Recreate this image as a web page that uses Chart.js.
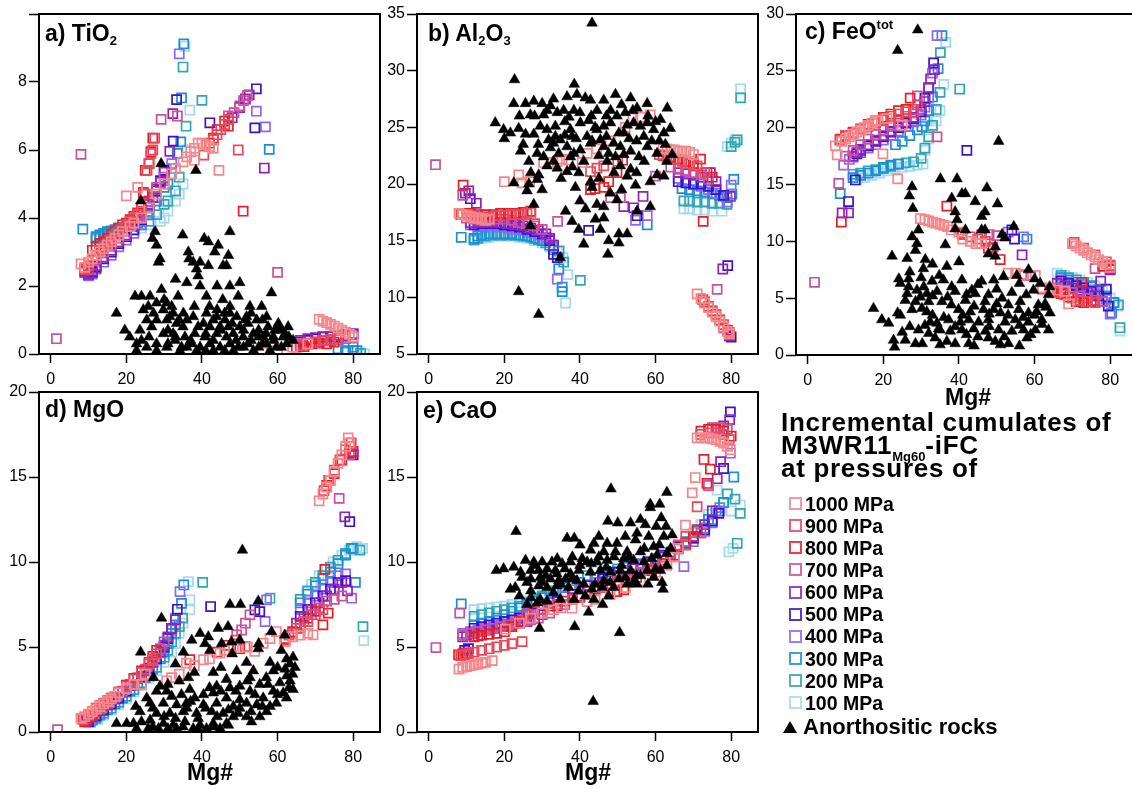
<!DOCTYPE html>
<html><head><meta charset="utf-8">
<script src="https://cdn.jsdelivr.net/npm/chart.js@4.4.1/dist/chart.umd.min.js"></script>
<style>
html,body{margin:0;padding:0;background:#fff;overflow:hidden;width:1132px;height:789px;position:relative}
canvas{position:absolute;left:0;top:0}
.pl{position:absolute;font:bold 23px 'Liberation Sans',Arial,sans-serif;line-height:23px;white-space:nowrap;color:#000}
.pl sub{font-size:13px;vertical-align:-4px;line-height:0}
.pl sup{font-size:13px;vertical-align:10px;line-height:0}
.mg{position:absolute;font:bold 23px 'Liberation Sans',Arial,sans-serif;line-height:23px;white-space:nowrap;transform:translateX(-50%)}
.lt{position:absolute;left:781px;font:bold 26px 'Liberation Sans',Arial,sans-serif;letter-spacing:0.7px;line-height:23px;white-space:nowrap}
.lt sub{font-size:13px;letter-spacing:0;vertical-align:-7px;line-height:0}
.li{position:absolute;left:789px;height:22px;font:bold 19.5px 'Liberation Sans',Arial,sans-serif;line-height:22px;white-space:nowrap;display:flex;align-items:center}
.li .sq{width:9px;height:9px;border:2px solid;margin-right:3px;opacity:.85;box-sizing:content-box}
.tri{width:0;height:0;border-left:7px solid transparent;border-right:7px solid transparent;border-bottom:12px solid #000;margin-right:6px}
</style></head><body>
<canvas id="cA" width="1132" height="789"></canvas>
<canvas id="cB" width="1132" height="789"></canvas>
<canvas id="cC" width="1150" height="789"></canvas>
<canvas id="cD" width="1132" height="789"></canvas>
<canvas id="cE" width="1132" height="789"></canvas>
<div class="pl" style="left:45px;top:22px">a) TiO<sub>2</sub></div>
<div class="pl" style="left:428px;top:22px">b) Al<sub>2</sub>O<sub>3</sub></div>
<div class="pl" style="left:805px;top:20px">c) FeO<sup>tot</sup></div>
<div class="pl" style="left:45px;top:398px">d) MgO</div>
<div class="pl" style="left:423px;top:399px">e) CaO</div>
<div class="mg" style="left:968px;top:386px">Mg#</div>
<div class="mg" style="left:210px;top:761px">Mg#</div>
<div class="mg" style="left:588px;top:761px">Mg#</div>
<div class="lt" style="top:411px">Incremental cumulates of</div>
<div class="lt" style="top:434px">M3WR11<sub>Mg60</sub>-iFC</div>
<div class="lt" style="top:457px">at pressures of</div>
<div id="leg"></div>
<script>
// ---------- categories / ticks ----------
const PRESSURES = ['1000 MPa','900 MPa','800 MPa','700 MPa','600 MPa','500 MPa','400 MPa','300 MPa','200 MPa','100 MPa'];
const ROCK_LABEL = 'Anorthositic rocks';
const MG_TICKS = [0,20,40,60,80];
const TIO2_TICKS = [0,2,4,6,8,10];
const AL2O3_TICKS = [5,10,15,20,25,30,35];
const FEO_TICKS = [0,5,10,15,20,25,30];
const MGO_TICKS = [0,5,10,15,20];
const CAO_TICKS = [0,5,10,15,20];

// ---------- a) TiO2 ----------
const TiO2_P1000 = [[8,2.65],[9,2.55],[10,2.7],[11,2.8],[12,2.9],[13,3.0],[14,3.1],[15,3.2],[16,3.3],[17,3.4],[18,3.5],[19,3.6],[20,4.65],[21,3.75],[22,3.85],[23,4.9],[24,4.0],[26,4.3],[28,4.7],[30,5.0],[32,5.3],[33,5.45],[35,5.65],[36,5.8],[37,5.95],[38,6.05],[39,6.2],[40,6.2],[41,6.15],[42,6.1],[43,6.05],[44.5,5.4],[38,5.7],[56,0.05],[60,0.1],[64,0.2],[68,0.3],[71,1.02],[72,0.97],[73,0.92],[74,0.87],[75,0.82],[76,0.76],[77,0.7],[78,0.64],[79,0.58],[80,0.5]];
const TiO2_P900 = [[9,2.5],[10,2.6],[11,2.75],[12,2.9],[13,3.05],[14,3.15],[15,3.25],[16,3.35],[17,3.5],[18,3.6],[19,3.7],[20,3.8],[21,3.9],[22,4.0],[23,4.1],[24,4.2],[25,4.7],[25.5,5.4],[26,5.6],[26.5,5.9],[27,6.0],[27.5,6.35],[40.5,5.85],[43,6.3],[44,6.45],[45,6.6],[46,6.75],[47,6.9],[49.6,6.0],[66,0.25],[68,0.3],[70,0.35],[72,0.4],[74,0.42],[76,0.45]];
const TiO2_P800 = [[9,2.45],[10,2.55],[11,3.05],[12,3.15],[13,3.25],[14,3.3],[15,3.4],[16,3.5],[17,3.6],[18,3.7],[19,3.8],[20,3.85],[21,3.95],[22,4.05],[23,4.15],[24,4.3],[24.5,4.75],[25,5.4],[26,5.6],[26.5,5.95],[27,6.35],[42,6.2],[43,6.35],[44,6.6],[46,6.85],[47,6.7],[50.9,4.2],[65,0.2],[67,0.22],[69,0.3],[71,0.32],[73,0.3],[75,0.35]];
const TiO2_P700 = [[1.5,0.45],[8,5.87],[9,2.5],[10,2.5],[12,2.8],[14,3.0],[16,3.2],[18,3.4],[20,3.6],[22,3.85],[24,4.1],[26,4.5],[28,4.9],[29.2,6.9],[30,5.2],[33.5,7.0],[47,7.0],[48.5,7.1],[50,7.3],[51,7.45],[52,7.6],[60,2.4],[66,0.3],[68,0.32],[70,0.35],[72,0.38],[74,0.4],[76,0.42],[78,0.45],[80,0.5]];
const TiO2_P600 = [[9,2.4],[10,2.35],[11,2.45],[12,2.6],[14,2.85],[16,3.05],[18,3.3],[20,3.5],[22,3.75],[24,4.0],[26,4.4],[27,4.6],[28,4.85],[29,5.05],[30,5.35],[31.5,5.96],[32.3,7.07],[48,6.95],[50,7.25],[51.5,7.5],[52.5,7.62],[56.5,5.47],[66,0.4],[68,0.45],[70,0.48],[72,0.5],[74,0.52],[76,0.55],[78,0.58],[80,0.6]];
const TiO2_P500 = [[10,2.35],[11,2.4],[12,2.55],[14,2.8],[16,3.0],[18,3.25],[20,3.45],[22,3.65],[24,3.95],[26,4.3],[28,4.8],[29,5.1],[30,5.4],[32.4,6.26],[33.3,7.48],[42.1,6.8],[54,6.65],[54.4,7.8],[66,0.35],[68,0.4],[70,0.45],[72,0.5],[74,0.52],[76,0.5],[78,0.55],[80,0.58]];
const TiO2_P400 = [[10,2.3],[11,2.35],[12,2.5],[14,2.7],[16,2.9],[18,3.15],[20,3.35],[22,3.55],[24,3.8],[26,4.2],[28,4.6],[30,5.1],[32,5.6],[34,8.83],[54.4,7.14],[56.8,6.68],[68,0.3],[70,0.35],[72,0.4],[74,0.42],[76,0.45],[78,0.5]];
const TiO2_P300 = [[8.5,3.67],[12,3.45],[13,3.5],[14,3.55],[15,3.6],[16,3.62],[17,3.66],[18,3.7],[19,3.72],[20,3.75],[21,3.78],[22,3.8],[23,3.85],[24,3.9],[26,4.1],[28,4.5],[30,4.9],[31,5.0],[32,5.45],[33.5,5.9],[34.4,6.24],[34.6,7.53],[35.2,9.12],[57.8,6.02],[76,0.15],[78,0.1],[80,0.2],[81,0.1]];
const TiO2_P200 = [[12,3.4],[13,3.45],[14,3.5],[15,3.55],[16,3.6],[18,3.65],[20,3.7],[22,3.75],[24,3.8],[26,3.9],[28,4.1],[30,4.4],[31,4.5],[33,4.8],[34,5.2],[35,8.44],[35.8,6.7],[40,7.46],[78,0.05],[80,0.1],[82,0.02]];
const TiO2_P100 = [[12,3.35],[14,3.45],[16,3.5],[18,3.55],[20,3.6],[22,3.65],[24,3.7],[26,3.8],[29,3.9],[30,4.0],[31,4.2],[33,4.5],[34,4.7],[35,5.0],[35.5,9.05],[36.8,7.17],[36,6.0],[80,0.05],[82,0.03],[83,0.0]];
const TiO2_rocks = [[29.2,5.6],[38.4,5.4],[23.8,4.5],[27.6,3.6],[26.9,3.4],[28,3.2],[34.9,3.5],[47.4,3.6],[40.6,3.4],[41.7,3.3],[44.3,3.2],[36.4,3.0],[43.4,3.0],[47,2.9],[28.9,2.8],[28.5,2.7],[37.7,2.7],[39.5,2.7],[36.6,2.8],[38.6,2.5],[41.7,2.6],[45.6,2.6],[46.5,2.6],[50,2.1],[47.4,2.0],[39.5,2.0],[36,2.1],[29.3,1.9],[58.4,1.8],[22.3,1.7],[24,1.7],[26.3,1.7],[28,1.5],[33.7,1.7],[41.2,1.7],[45.5,1.6],[49.6,1.7],[30.7,1.5],[52.7,1.4],[55.8,1.4],[47.4,1.4],[17.4,1.2],[24.5,1.3],[27.2,1.2],[29.8,1.3],[32.4,1.2],[35.1,1.2],[37.7,1.1],[43.9,1.1],[47.4,1.2],[49.2,1.1],[51.8,1.1],[54.5,1.0],[25.4,1.0],[28,1.0],[30.7,1.0],[33.3,0.9],[40.4,0.9],[42.1,0.8],[44.8,0.8],[50,0.8],[52.2,0.9],[55,0.7],[57.5,0.8],[59.3,0.7],[60.6,0.8],[62.8,0.8],[19.6,0.7],[23.6,0.7],[26.7,0.8],[29.8,0.6],[32.4,0.6],[35.5,0.5],[38.1,0.6],[40.8,0.5],[43.9,0.6],[46.5,0.5],[48.3,0.6],[50.9,0.5],[53.6,0.6],[56.2,0.5],[58.9,0.5],[61.5,0.5],[64.1,0.4],[20.9,0.5],[22.7,0.3],[25.4,0.2],[28,0.3],[30.7,0.2],[32.9,0.4],[34.6,0.2],[37.3,0.3],[39.5,0.2],[42.1,0.3],[44.8,0.2],[47.4,0.3],[49.6,0.2],[52.2,0.3],[55,0.2],[57.1,0.3],[59.7,0.2],[62.4,0.3],[22.7,0.1],[28,0.1],[34.2,0.1],[38.6,0.1],[43,0.1],[48.3,0.1],[53.6,0.1],[58,0.1],[25.8,1.4],[31.5,1.1],[36,1.0],[41.2,1.2],[43,1.0],[46.1,1.0],[51.4,1.0],[57.1,1.1],[60.2,0.9],[31,0.7],[33,0.5],[35,0.8],[37,0.4],[39,0.8],[41,0.6],[43,0.4],[45,0.7],[47,0.8],[49,0.4],[51,0.7],[53,0.4],[55,0.5],[57,0.6],[59,0.4],[61,0.7],[63,0.5],[30,1.6],[32,1.4],[34,1.0],[38,1.4],[42,1.4],[44,1.3],[46,1.2],[48,0.9],[53,1.2],[56,1.0],[62,0.6],[26,0.5],[24,0.4],[31,0.3],[36,0.2],[41,0.1],[46,0.1],[51,0.2],[56,0.3],[61,0.2],[39,2.3],[44,2.0],[33,2.2]];

// ---------- b) Al2O3 ----------
const Al2O3_P1000 = [[8,17.4],[9,17.3],[10,17.2],[11,17.1],[12,17.0],[13,17.0],[14,16.9],[15,16.8],[16,16.9],[20,20.2],[23.8,20.8],[24.7,20.1],[26.7,20.2],[30.4,21.9],[32.6,21.9],[34,22.0],[35.3,22.2],[37,22.1],[40.6,21.9],[41.9,22.7],[44.4,23.1],[48,23.8],[52,25.0],[54,25.8],[56,25.9],[58.6,26.1],[62,23.1],[63,23.1],[64,23.0],[65,23.0],[66,22.9],[67,22.9],[68,22.9],[69,22.8],[70,22.6],[71,10.3],[72,9.9],[73,9.5],[74,9.1],[75,8.7],[76,8.3],[77,7.9],[78,7.4],[79,7.0],[79.5,6.8]];
const Al2O3_P900 = [[8.5,17.3],[10,17.2],[12,17.2],[14,17.1],[16,17.1],[18,17.2],[20,17.2],[22,17.3],[24,17.3],[26,17.4],[27,17.5],[28,16.5],[42.8,21.1],[44.5,21.4],[46.3,21.6],[50,22],[61,22.6],[63,22.4],[65,22.2],[67,22.0],[69,21.8],[71,21.6],[73,21.0],[72.5,9.8],[74,9.2],[76,8.5],[78,7.6],[79.5,6.9]];
const Al2O3_P800 = [[9.1,19.9],[9,17.4],[11,17.4],[13,17.3],[15,17.3],[17,17.3],[19,17.4],[21,17.4],[23,17.4],[25,17.5],[27,17.6],[42.8,19.5],[44,19.6],[46.3,19.7],[47.6,20.2],[49.8,21],[51.3,22.1],[62,22.5],[64,22.4],[66,22.2],[68,22.0],[70,21.8],[71.9,22.2],[73.6,21.0],[75,20.6],[72.6,16.7],[73,9.6],[75,8.8],[77,8.0],[79,7.1]];
const Al2O3_P700 = [[1.8,21.7],[9,19.0],[10,17.0],[12,16.9],[14,16.8],[16,16.8],[18,16.9],[20,16.9],[22,16.8],[24,16.6],[26,16.5],[28,16.3],[30,16.0],[34.1,16.7],[48.1,18.8],[50.7,18.8],[60,20.7],[64,21.5],[66,21.4],[68,21.2],[70,21.0],[72,20.8],[74,20.4],[76.3,10.7],[78,7.3],[79.5,6.7]];
const Al2O3_P600 = [[9.7,19.2],[10.6,19.4],[12.6,18.3],[11,16.6],[13,16.6],[15,16.6],[17,16.6],[19,16.6],[21,16.5],[23,16.4],[25,16.3],[27,16.1],[29,15.9],[31,15.6],[32,15.2],[33,14.6],[51.6,18.0],[54.2,17.9],[56.7,18.9],[66,21.0],[68,20.9],[70,20.8],[72,20.6],[74.5,21.0],[76,20.2],[77.8,12.5],[79.8,18.9],[79.5,6.6]];
const Al2O3_P500 = [[11,18.7],[12,16.4],[14,16.5],[16,16.5],[18,16.5],[20,16.4],[22,16.3],[24,16.2],[26,16.0],[28,15.8],[30,15.6],[32,15.0],[33,13.8],[34,13.5],[42.3,15.9],[55.1,17.2],[66,20.2],[68,20.1],[70,20.0],[72,20.0],[74,19.8],[76,19.5],[78,19.0],[79.1,12.8],[80,6.5]];
const Al2O3_P400 = [[11,16.4],[13,16.3],[15,16.3],[17,16.3],[19,16.2],[21,16.1],[23,16.0],[25,15.9],[27,15.7],[29,15.5],[31,15.3],[33,14.6],[34,11.6],[54.7,16.8],[57.8,17.2],[66,20.5],[68,20.3],[70,20.0],[72,19.8],[74,19.5],[76,19.2],[78,18.9],[79,18.4],[80,19.9]];
const Al2O3_P300 = [[8.6,15.3],[12,15.2],[13,15.4],[14,15.5],[16,15.6],[18,15.6],[20,15.6],[22,15.6],[24,15.5],[26,15.4],[28,15.2],[30,15.0],[32,14.6],[33,14.2],[34.4,12.5],[35.3,10.9],[35.3,10.5],[57.8,16.4],[67,19.6],[69,19.5],[71,19.4],[73,19.3],[75,19.2],[77,19.0],[78.9,18.8],[80.7,20.4],[80.2,19.1]];
const Al2O3_P200 = [[12,15.1],[13,15.2],[15,15.4],[17,15.5],[19,15.5],[21,15.5],[23,15.5],[25,15.4],[27,15.3],[29,15.1],[31,14.8],[33,14.4],[34.5,14.1],[35.7,13.1],[40.1,11.5],[67.5,18.5],[69,18.5],[71,18.4],[73,18.4],[75,18.3],[77,18.3],[78.9,18.2],[80,23.3],[81,23.7],[81.6,23.9],[82.5,27.6]];
const Al2O3_P100 = [[12,15.0],[14,15.2],[16,15.3],[18,15.4],[20,15.4],[22,15.4],[24,15.3],[26,15.2],[28,15.0],[30,14.8],[32,14.5],[34,14.0],[35.5,13.5],[36.8,12.0],[36.2,9.5],[67.5,17.8],[69,17.8],[71,17.7],[73,17.7],[75,17.6],[77.6,17.6],[79,23.3],[80,23.6],[81,23.9],[82.5,28.4]];
const Al2O3_rocks = [[22.7,29.2],[38.5,28.8],[17.6,25.4],[19.8,24.8],[21.6,24.5],[22.5,27.1],[25.6,27.1],[27.8,27.3],[30,27.1],[32.2,26.9],[31.3,26.5],[34,26.3],[36.6,27.7],[39.2,27.9],[41.4,27.6],[42.8,27.4],[46.3,27.4],[49.4,27.9],[53.4,27.6],[55.1,26.7],[57.8,27.1],[63.1,26.7],[23.8,24.9],[25.6,24.4],[27.8,24.4],[29.5,25.1],[30.4,26.1],[31.7,23.9],[33.5,24.2],[34.8,23.9],[37.5,24.8],[37.9,24.2],[40.1,25.4],[41.9,24.2],[43.2,23.8],[45.4,23.9],[46.3,25.1],[48.1,25.4],[49.8,26],[52,26.3],[50.3,24.5],[52.5,25.2],[54.2,25.4],[56,25.1],[57.8,25.4],[59.5,24.8],[61.3,25.7],[62.2,24.5],[63.9,24.9],[24.3,22.9],[26.5,22.0],[28.7,22.7],[30.4,22.4],[32.2,23.2],[34.4,22.7],[36.6,23.3],[37.5,22.4],[38.4,22.7],[40.1,23.0],[42.8,23.6],[46.3,23.3],[47.6,22.7],[49.4,22.4],[51.6,22.6],[53.4,22.9],[55.6,22.4],[57.8,23.3],[60.4,22.7],[62.6,23.5],[64.4,22.6],[22.5,20.1],[26.5,20],[28.7,20.4],[29.1,20.8],[31.3,21.6],[34,21.4],[36.6,21.1],[39.7,21],[42.8,20.2],[47.2,22],[50.7,21.6],[53.4,21.3],[52.5,20.7],[58.6,20.2],[60.4,20.8],[62.2,20.7],[26,19.4],[27.8,18.2],[38.8,19.7],[43.2,19.7],[44.5,18.2],[46.3,18.0],[54.7,19.9],[58.6,18.0],[36.2,17.6],[37.9,16.7],[41.5,17.8],[44.1,16.9],[46.3,17.0],[49.8,18.6],[55.1,17.6],[39.7,16.0],[45.4,16.0],[47.6,15.0],[50.3,15.6],[52.5,15.6],[50.3,14.8],[41,14.7],[47.4,13.8],[34.8,13.5],[26.9,16.3],[23.8,10.5],[29.1,8.5],[43.2,34.2],[35.7,26.5],[26.9,26.1],[38.4,26.5],[44.5,26.5],[48.1,26.5],[42.3,25.6],[33.5,25.1],[31.3,24.8],[37.1,25.9],[44.5,24.8],[51.6,24.5],[56.9,24.2],[48.9,23.6],[50.7,23.3],[28,26],[33,27.5],[36,25.5],[40,26.3],[43,26],[47,26],[51,27],[54,26.5],[58,26],[60,25.5],[29,23.5],[33,23.6],[36,24.3],[39,24],[44,25],[47,24.2],[53,24],[55,23.8],[59,23.8],[61,23.8],[27,21],[33,22],[35,20.5],[38,21.5],[41,22],[45,22.5],[49,21],[55,21],[57,22],[63,22],[45,20.5],[48,19.2],[51,19.5],[40,18.5],[30,19.5],[25,23.5],[20,24],[24,26]];

// ---------- c) FeOtot ----------
const FeO_P1000 = [[7.3,18.4],[7.8,17.6],[9,18.8],[10,19.0],[11,19.2],[12,19.4],[13,19.6],[14,19.8],[15,20.0],[16,20.2],[17,20.4],[18,20.6],[19.9,17.7],[21,20.8],[23.8,15.5],[25,20.2],[29.8,12.0],[31,11.9],[32,11.8],[33,11.7],[34,11.6],[35,11.5],[36,11.4],[37,11.3],[38,11.0],[40,10.8],[41,10.2],[43,10.0],[44.5,9.8],[46,9.8],[53,7.2],[55,7.2],[57,7.1],[60.2,7.0],[62,5.9],[64,5.8],[66,5.7],[68,5.6],[69,4.5],[70,9.8],[71,9.6],[72,9.4],[73,9.2],[74,9.0],[75,8.8],[76,8.6],[77,8.4],[78,8.2],[79,8.0],[80,7.7]];
const FeO_P900 = [[8.5,18.9],[10,19.2],[12,19.5],[14,19.8],[16,20.1],[18,20.4],[20,20.7],[22,21.0],[24,21.2],[26,21.4],[28,21.4],[29,22.0],[41,10.6],[43,10.4],[45,10.2],[47,10.0],[49,9.5],[62,5.8],[64,5.6],[66,5.5],[68,5.3],[70,5.0],[72,4.8],[74,4.7],[76,4.6],[70.5,9.9],[73,9.4],[76,8.8],[79,8.2],[80,7.9]];
const FeO_P800 = [[8.6,19.0],[8.9,11.7],[10,19.3],[12,19.6],[14,19.9],[16,20.3],[18,20.6],[20,20.9],[22,21.2],[24,21.5],[26,21.6],[27.1,22.6],[36.8,13.1],[40.8,10.7],[47.8,9.4],[50.9,8.4],[65,5.6],[67,5.4],[69,5.1],[71,4.7],[72.5,6.4],[73,4.6],[75,4.7],[78,7.8],[80,7.6]];
const FeO_P700 = [[1.8,6.4],[8.2,15.1],[10,17.5],[12,18.0],[14,18.5],[16,19.0],[18,19.4],[20,19.8],[22,20.2],[24,20.6],[26,21.0],[28,21.6],[29,22.8],[34.2,19.2],[46,10.6],[48,10.6],[50,10.5],[57,7.0],[59,7.0],[66,5.9],[68,5.7],[70,5.5],[72,5.2],[74,5.0],[76,4.8],[76,7.6],[78,4.7],[80,7.8]];
const FeO_P600 = [[9.1,12.5],[10.8,12.5],[12,17.5],[13,17.8],[14,18.1],[16,18.5],[18,18.9],[20,19.3],[22,19.7],[24,20.1],[26,20.5],[28,20.9],[30,21.6],[31,22.3],[32,23.5],[32.5,24.3],[33.5,25.1],[56.7,8.8],[66,6.3],[68,6.1],[70,5.9],[72,5.7],[74,5.5],[76,5.2],[77.5,6.5],[78,4.7],[80,7.5]];
const FeO_P500 = [[10.8,13.5],[12.6,15.4],[13,17.7],[14,18.0],[16,18.4],[18,18.8],[20,19.2],[22,19.6],[24,20.0],[26,20.4],[28,20.8],[30,21.4],[31,22.6],[32,23.5],[33.3,25.7],[42.1,18.0],[54,11.0],[54.7,10.2],[67,6.5],[69,6.3],[71,6.1],[73,5.9],[75,5.6],[77,5.2],[79,5.8],[79.5,4.3]];
const FeO_P400 = [[9.5,16.7],[11,17.2],[12,17.4],[14,17.8],[16,18.2],[18,18.5],[20,18.9],[22,19.3],[24,19.7],[26,20.1],[28,20.5],[30,21.1],[31,21.8],[32,22.6],[33,24.8],[34.2,28.1],[53,10.8],[57.1,10.4],[67,6.6],[69,6.4],[71,6.2],[73,6.0],[75,5.7],[77,5.4],[79,4.9],[80,3.6]];
const FeO_P300 = [[8.6,14.2],[12,15.6],[14,15.8],[16,16.0],[18,16.2],[20,16.5],[22,16.7],[23.2,18.5],[24,16.8],[25,18.8],[27,19.3],[29,19.8],[30.2,20.1],[31,20.6],[32,21.5],[33,22.7],[34.5,25.2],[35.5,28.1],[58,10.2],[67,6.8],[69,6.6],[71,6.4],[73,6.2],[75,6.0],[77,5.6],[79,5.1],[80.4,3.7],[81,4.6]];
const FeO_P200 = [[12,15.9],[14,16.0],[16,16.2],[18,16.3],[20,16.4],[22,16.6],[24,16.8],[26,16.9],[28,17.0],[30,17.3],[31,18.2],[32,19.2],[33,20.2],[34,21.6],[35,23.1],[35.1,26.6],[40.2,23.4],[67,7.0],[69,6.8],[71,6.6],[73,6.4],[75,6.1],[77,5.8],[79,5.2],[81,4.6],[82.2,4.4],[82.6,2.4]];
const FeO_P100 = [[13,15.4],[15,15.6],[17,15.8],[19,16.0],[21,16.2],[23,16.4],[25,16.5],[27,16.6],[29,16.7],[30.5,16.8],[31,18.0],[32,19.0],[33,20.0],[34,20.6],[35,21.5],[36,23.8],[36.5,27.5],[66,7.2],[68,7.0],[70,6.8],[72,6.6],[74,6.4],[76,6.1],[78,5.7],[80,5.0],[82,4.3],[82.6,2.1]];
const FeO_rocks = [[29.1,28.6],[23.8,26.8],[50.5,18.8],[35.1,15.5],[39.5,15.5],[27.6,14.8],[26.9,14],[27.8,12.9],[38.1,13.8],[40.8,14.2],[41.7,14.2],[44.3,13.5],[47.4,14.7],[50.2,13.3],[46.9,12.6],[39,12.6],[39.5,11.9],[46,12.2],[54.5,11.3],[29.3,11.0],[28.9,9.8],[39,11.1],[41.7,11],[46,11],[46.9,11],[51.4,10.6],[52.2,10.3],[36.4,9.7],[28.5,9.2],[22.3,8.7],[26.3,8.5],[49.6,9.5],[47.8,8.9],[49.6,8.7],[31.1,8.4],[30.6,7.6],[36.8,7.8],[34.8,7.0],[58.4,7.5],[55.3,7.0],[51.8,6.9],[49.2,6.6],[46,6.5],[43.4,5.7],[40.8,6.6],[38.1,6.0],[35.9,6.6],[32.9,6.5],[30.7,6.0],[26.7,6.7],[24.1,6.7],[24.5,6.3],[26.7,6.0],[26.3,5.4],[28.9,5.7],[31.5,5.4],[34.2,5.6],[39,5.6],[44.3,5.4],[47.8,5.3],[51.4,5.0],[57.8,5.3],[61.5,6.3],[59.7,5.7],[63.7,5.3],[25.8,4.8],[28.5,4.7],[29.8,5.1],[32,4.7],[35.5,4.7],[41.7,4.8],[46.9,4.7],[50,4.5],[53.1,4.4],[56.2,4.7],[61,4.4],[62.8,4.5],[17.4,4.1],[23.8,3.7],[27.6,4.0],[30.2,4.1],[31.5,3.8],[39.9,4.0],[43,3.8],[46.5,4.0],[49.2,4.0],[55.8,4.0],[58.4,3.7],[60.6,3.8],[64.1,3.7],[19.6,3.1],[21.4,2.8],[32.4,2.9],[34.2,2.8],[37.3,3.1],[40.4,2.9],[42.6,3.1],[45.2,2.9],[47.8,3.1],[52.2,2.9],[54.9,3.1],[58.4,2.9],[61.9,3.1],[29.3,2.2],[32,1.9],[34.6,2.3],[37.7,2.1],[40.8,2.2],[43.9,2.3],[47,2.1],[50.5,2.2],[54,2.1],[57.1,2.2],[60.2,2.2],[63.7,2.2],[22.7,1.3],[25.8,1.3],[28.5,1.0],[30.3,1.0],[33.7,1.5],[36.8,1.2],[39,1.0],[42.6,1.0],[47.8,1.5],[49.6,1.2],[53.1,1.0],[58,1.5],[23,0.7],[24.5,3.5],[27.6,10.4],[33,3.5],[36,3.3],[38,4.4],[41,3.5],[44,4.3],[48,3.6],[51,3.7],[53,3.5],[57,3.3],[60,3.5],[63,4.2],[31,2.6],[35,2.2],[39,2.5],[42,1.8],[45,1.6],[48,2.5],[52,1.6],[56,2.6],[59,1.8],[62,2.7],[27,2.5],[25,2.0],[30,6.8],[33,5.2],[37,5.1],[42,5.3],[45,6.2],[50,5.8],[54,5.5],[56,6.3],[60,6.7],[64,6.0],[35,0.9],[44,0.8],[51,0.9],[56,0.8],[27,7.3],[33,8.0],[40,8.2]];

// ---------- d) MgO ----------
const MgO_P1000 = [[8,0.8],[9,0.9],[10,1.05],[11,1.2],[12,1.35],[13,1.5],[14,1.65],[15,1.8],[16,1.95],[17,2.1],[18,2.3],[20,2.55],[22,2.8],[24,2.8],[25,3.4],[30.7,3.0],[32,3.2],[34,3.4],[35.9,4.05],[38,3.9],[40.4,4.25],[42,4.3],[44.8,4.64],[46,4.8],[48.3,5.03],[52,5.0],[54,4.74],[56.2,5.22],[58,5.5],[59.7,5.91],[62,5.3],[64,5.6],[66,5.7],[68,5.8],[69.4,5.71],[71,13.6],[72,14.0],[73,14.4],[74,14.8],[75,15.3],[76,15.8],[77,16.3],[78,16.8],[78.7,17.3],[79,17.0]];
const MgO_P900 = [[8.5,0.75],[10,1.0],[11,1.2],[12,1.4],[13,1.55],[14,1.7],[15,1.85],[16,2.0],[18,2.35],[20,2.7],[22,3.1],[24,3.5],[26,4.0],[27,4.3],[28,4.6],[49,5.4],[51.4,5.03],[62,5.4],[64,5.8],[66,6.1],[68,6.5],[70,6.9],[72,7.2],[72.3,14.2],[73.5,14.8],[75,15.4],[76.5,16.0],[78,16.6],[79.5,17.0]];
const MgO_P800 = [[9,0.6],[10,0.85],[11,1.0],[12,1.2],[14,1.55],[16,1.95],[18,2.35],[20,2.75],[22,3.15],[24,3.6],[26,4.1],[27,4.45],[28,4.8],[36.8,4.25],[44,4.7],[47,5.1],[50,4.9],[62,5.5],[64,5.9],[66,6.3],[68,6.7],[70,7.1],[72,6.3],[72.5,9.57],[73.4,6.99],[73,14.5],[75,15.2],[77,16.0],[79,16.8],[80,16.5]];
const MgO_P700 = [[1.8,0.14],[9,0.7],[11,1.0],[13,1.35],[15,1.7],[17,2.05],[19,2.4],[21,2.8],[23,3.2],[25,3.7],[27,4.2],[29,4.9],[30,5.3],[49.2,5.71],[50.5,6.0],[51.5,6.4],[52.7,6.89],[63,5.7],[65,6.1],[67,6.5],[69,6.9],[71,7.3],[73,7.7],[75,7.8],[76.3,13.74],[77,8.0],[79,16.3]];
const MgO_P600 = [[9.5,0.65],[11,0.9],[13,1.25],[15,1.6],[17,1.95],[19,2.35],[21,2.75],[23,3.15],[25,3.6],[27,4.1],[29,4.7],[30,5.1],[31,5.6],[32,6.1],[33,6.6],[65,6.4],[67,6.8],[69,7.2],[71,7.6],[73,8.0],[75,8.4],[77,8.8],[77.8,12.66],[78.5,8.3],[79.5,16.4]];
const MgO_P500 = [[10,0.6],[12,0.95],[14,1.3],[16,1.65],[18,2.0],[20,2.4],[22,2.8],[24,3.25],[26,3.75],[28,4.3],[30,5.0],[31,5.5],[32,6.1],[33.5,7.22],[42.3,7.38],[54,7.18],[55.3,7.08],[66,6.8],[68,7.2],[70,7.6],[72,8.0],[74,8.4],[76,8.8],[78,8.9],[79.1,12.37],[80,16.3]];
const MgO_P400 = [[10.5,0.6],[12,0.9],[14,1.25],[16,1.6],[18,1.95],[20,2.35],[22,2.75],[24,3.2],[26,3.7],[28,4.3],[30,5.0],[32,6.0],[33,6.7],[34.2,8.26],[56.7,6.5],[57.1,7.77],[66,7.2],[68,7.6],[70,8.0],[72,8.4],[74,8.8],[76,9.2],[78,9.3],[79.6,7.87]];
const MgO_P300 = [[11,0.7],[13,1.0],[15,1.3],[17,1.65],[19,2.0],[21,2.4],[23,2.8],[25,3.2],[27,3.7],[29,4.3],[30,4.7],[31,5.2],[32,5.8],[33,6.3],[34.6,7.57],[35.2,8.65],[66,7.6],[68,8.1],[70,8.6],[72,9.0],[74,9.4],[76,9.9],[78,10.4],[79.5,10.8],[80.6,8.8]];
const MgO_P200 = [[12,0.8],[14,1.1],[16,1.4],[18,1.75],[20,2.1],[22,2.5],[24,2.9],[26,3.3],[28,3.8],[30,4.4],[31,4.8],[32,5.3],[33,5.8],[34,6.2],[34.9,6.7],[40.2,8.8],[58,7.87],[66,7.8],[68,8.3],[70,8.8],[72,9.2],[74,9.7],[76,10.1],[78,10.5],[80,10.8],[81.8,10.7],[82.6,6.2]];
const MgO_P100 = [[12.5,0.75],[14,1.0],[16,1.3],[18,1.6],[20,1.95],[22,2.35],[24,2.75],[26,3.15],[28,3.6],[30,4.1],[32,4.7],[33,5.2],[34,5.8],[35,6.4],[36.8,7.18],[36.8,7.77],[36.4,8.85],[67.7,8.26],[69,8.7],[71,9.2],[73,9.6],[74.7,10.0],[77,10.4],[79,10.7],[81,10.9],[82.5,10.8],[82.8,5.38]];
const MgO_rocks = [[50.7,10.7],[47.4,7.5],[50.2,7.5],[54.9,7.7],[29.3,6.7],[44.3,6.1],[46.9,6.2],[39.5,5.8],[41.7,5.6],[58.4,5.9],[61.9,5.7],[37.3,5.4],[42.1,4.8],[35.1,4.7],[23.8,4.7],[45.2,5.2],[47.8,5.3],[50,5.4],[54.9,4.9],[61,4.8],[62.4,4.3],[51.8,4.1],[58,4.1],[63.3,4.0],[64.6,3.8],[49.2,3.6],[58.9,3.6],[62.4,3.3],[36.4,3.2],[27.2,3.2],[46.5,3.1],[52.7,3.2],[60.6,2.9],[63.3,3.0],[55.3,2.8],[57.5,2.8],[28.9,2.7],[43.9,2.7],[47.4,2.6],[50,2.7],[64.1,2.5],[28,2.4],[30.7,2.4],[36.8,2.5],[40.4,2.2],[43,2.3],[52.7,2.4],[58.9,2.4],[61.5,2.3],[25.4,2.0],[32,2.1],[34.6,2.2],[38.1,2.0],[46.5,2.0],[50,1.9],[56.2,2.0],[62.4,2.0],[22.5,1.5],[26.3,1.7],[29.8,1.7],[33.3,1.6],[35.9,1.7],[40.4,1.6],[43.9,1.7],[48.3,1.5],[51.8,1.7],[54.5,1.6],[58,1.5],[23.6,1.2],[28,1.1],[31.5,1.1],[35.1,1.2],[38.6,1.1],[42.6,1.2],[45.6,1.1],[49.6,1.1],[53.1,0.6],[57.1,1.2],[17.4,0.5],[20.1,0.5],[21.9,0.5],[26.3,0.7],[29.8,0.5],[32.4,0.4],[35.5,0.6],[39.5,0.4],[43,0.5],[46.5,0.5],[22.7,0.2],[25.8,0.2],[28.5,0.2],[33.3,0.2],[37.7,0.2],[41.2,0.2],[44.8,0.2],[48.3,0.9],[51.8,0.9],[55.3,0.9],[59.7,1.7],[40.8,5.2],[53.6,3.6],[64.1,4.4],[27,1.4],[30,0.9],[33,0.8],[36,1.4],[39,0.8],[41,1.4],[44,0.9],[47,1.3],[50,1.4],[53,1.2],[56,1.5],[60,2.2],[63,2.6],[31,2.8],[34,3.0],[37,1.8],[42,2.6],[45,2.4],[49,2.4],[54,2.2],[57,3.2],[60,3.8],[62,3.7],[64,3.4],[45,3.8],[52,3.0],[27,0.3],[31,0.2],[35,0.3],[39,0.2],[43,0.3],[47,0.4],[24,0.6],[55,5.2],[48,4.6],[43,3.5],[38,3.5],[33,4.0]];

// ---------- e) CaO ----------
const CaO_P1000 = [[8,3.7],[9,3.8],[10,3.85],[11,3.9],[12,3.95],[13,4.0],[14,4.05],[15,4.1],[16.8,4.2],[20.3,6.05],[24,6.4],[27,6.7],[30,7.0],[33,7.2],[35,7.3],[37.9,7.28],[41.9,7.67],[44,7.8],[48,8.1],[52,8.5],[56,8.9],[60,9.4],[63,9.8],[65,10.3],[66,10.8],[67.9,12.17],[69.7,14.07],[70.5,14.97],[71,17.3],[72,17.3],[73,17.3],[74,17.3],[75,17.25],[76,17.2],[77,17.1],[78,17.0],[79,16.8],[79.8,16.6]];
const CaO_P900 = [[8.5,4.5],[9.5,4.55],[10.5,4.6],[12,4.7],[14,4.8],[16,4.9],[18,5.0],[20,5.1],[22,5.2],[24.7,5.32],[26,6.9],[30,7.2],[34,7.5],[38,7.8],[42,8.1],[46,8.5],[50,8.9],[54,9.3],[58,9.6],[62,10.1],[64,10.5],[66,11.0],[68,11.5],[71,13.25],[72,17.5],[74,17.6],[76,17.6],[78,17.5],[79.5,17.2]];
const CaO_P800 = [[7.9,4.54],[9,4.6],[10,4.65],[12,5.6],[13,5.65],[14,5.7],[16,5.75],[18,5.8],[20,5.9],[22,6.2],[24,6.5],[26,6.9],[28,7.1],[32,7.4],[36,7.7],[40,8.0],[44,8.4],[48,8.7],[49.8,8.26],[51.6,8.36],[55,9.1],[59,9.5],[62,9.9],[65,10.4],[68,11.1],[70,11.5],[71,11.9],[72.8,16.03],[73.6,14.62],[74.5,15.46],[72,17.7],[74,17.8],[76,17.8],[78,17.7],[80,17.4]];
const CaO_P700 = [[1.9,4.97],[8.2,6.99],[9,5.7],[11,5.8],[13,5.9],[15,6.0],[17,6.1],[19,6.2],[21,6.3],[23,6.4],[25,6.5],[27,6.6],[29,6.7],[32,7.0],[36,7.5],[40,7.9],[44,8.3],[48,8.7],[52,9.0],[56,9.4],[60,9.8],[64,10.3],[68,11.0],[72,11.7],[74,14.5],[75,17.9],[77,17.9],[79,17.8]];
const CaO_P600 = [[9,5.6],[10,5.7],[12,5.8],[14,5.9],[16,6.0],[18,6.1],[20,6.2],[22,6.3],[24,6.4],[26,6.5],[28,6.7],[30,6.9],[34,7.4],[38,7.9],[42,8.3],[46,8.8],[50,9.2],[54,9.6],[58,9.9],[62,10.3],[66,10.8],[70,11.5],[73,12.2],[75,13.0],[76.3,14.9],[77.2,15.9],[79.6,18.38],[78,18.0]];
const CaO_P500 = [[9.5,4.8],[10.5,4.9],[12,6.1],[14,6.2],[16,6.3],[18,6.4],[20,6.5],[22,6.6],[24,6.7],[26,6.9],[28,7.0],[30,7.2],[34,7.7],[38,8.1],[42,8.6],[46,9.0],[50,9.4],[54,9.7],[58,10.0],[62,10.4],[66,10.9],[70,11.4],[73,11.9],[75,12.4],[76.7,12.86],[78,15.5],[79.8,18.83]];
const CaO_P400 = [[9,5.8],[11,5.9],[13,6.0],[15,6.1],[17,6.2],[19,6.3],[21,6.5],[23,6.6],[25,6.8],[27,7.0],[29,7.2],[32,7.6],[36,8.0],[40,8.4],[44,8.8],[48,9.2],[52,9.5],[56,9.8],[60,10.1],[64,10.5],[67.5,9.73],[70,11.2],[73,11.8],[75,12.3],[77,13.0],[79.8,16.4]];
const CaO_P300 = [[8.6,7.53],[12,6.3],[14,6.4],[16,6.5],[18,6.7],[20,6.9],[22,7.1],[24,7.3],[26,7.5],[28,7.7],[30,7.9],[33,8.2],[36,8.5],[40,8.8],[44,9.1],[48,9.4],[52,9.7],[56,9.9],[60,10.2],[64,10.6],[68,11.2],[71,11.8],[74,12.5],[76,13.0],[78,13.5],[80.7,15.0]];
const CaO_P200 = [[12,6.8],[14,6.9],[16,7.0],[18,7.1],[20,7.2],[22,7.3],[24,7.4],[26,7.6],[28,7.8],[30,8.0],[32,8.3],[35.3,8.75],[38,8.9],[42,9.2],[46,9.4],[50,9.6],[54,9.8],[58,10.0],[62,10.3],[66,10.8],[70,11.4],[73,12.0],[75,12.5],[77,13.2],[79,14.0],[81,13.7],[82.4,12.86],[81.6,11.1]];
const CaO_P100 = [[12,7.2],[14,7.25],[16,7.3],[18,7.35],[20,7.4],[22,7.5],[24,7.6],[26,7.7],[28,7.8],[30,7.9],[34,8.3],[38,8.7],[42,9.0],[46,9.3],[50,9.5],[54,9.7],[58,9.9],[62,10.2],[66,10.7],[68,11.2],[70,11.7],[72,12.2],[74,12.8],[76.3,14.23],[78,13.5],[80,13.0],[82.4,13.35],[79.4,10.6],[80.5,10.8]];
const CaO_rocks = [[48.2,14.3],[63,14.1],[58.6,13.4],[61.1,13.4],[58.6,13.2],[47.4,12.4],[50,12.3],[53.4,12.3],[61.5,12.6],[23.1,11.8],[57.3,12.2],[60.2,12.1],[62.8,12.1],[55.1,11.7],[36.6,11.4],[38.5,11.4],[43.7,11.1],[47.2,11.1],[49.8,11.1],[54.7,11.3],[58.2,11.5],[62.2,11.5],[64.4,11.6],[42.8,10.7],[46.3,10.6],[49.4,10.6],[52.5,10.6],[56,10.6],[59.5,10.9],[60.4,10.4],[63,10.5],[25.6,10.1],[27.8,10.0],[30,10.0],[32.6,10.0],[35.3,9.9],[37.5,10.0],[40.6,10.2],[41.9,10.0],[44.5,10.0],[47.2,10.1],[51.6,10.2],[54.2,10.1],[56.9,10.0],[17.9,9.5],[19.8,9.6],[22.5,9.7],[24.3,9.4],[27,9.5],[29.1,9.5],[31.3,9.6],[33.5,9.5],[37.5,9.3],[39.7,9.5],[42.8,9.4],[45.4,9.5],[48.1,9.4],[50.7,9.5],[53.4,9.5],[57.8,9.5],[61.3,9.5],[24.7,9.1],[27,9.0],[29.5,9.1],[32.2,9.0],[34.4,8.9],[39.2,8.9],[41,8.7],[46.3,8.9],[50.3,9.0],[54.2,8.8],[59.5,9.1],[61.7,8.8],[21.6,8.4],[22.9,8.5],[27,8.3],[29.1,8.6],[31.3,8.5],[33.9,8.6],[37,8.5],[39.7,8.3],[43.2,8.4],[45.9,8.5],[48.9,8.5],[52.5,8.7],[55.1,8.7],[62,8.4],[27,7.9],[29.5,7.8],[31.3,7.7],[34.8,7.8],[38.4,7.8],[41.4,8.0],[43.7,7.8],[47.6,8.0],[26,7.5],[28.7,7.6],[42.3,7.05],[29.3,6.1],[38.6,6.2],[50.5,5.85],[43.5,1.8],[33.9,9.3],[36.2,9.0],[28,9.8],[31,9.2],[34,10.2],[36,9.6],[38,10.3],[40,9.8],[43,9.9],[45,10.3],[47,9.7],[49,10.3],[51,9.8],[53,10.3],[55,9.2],[57,10.8],[59,10.2],[61,11],[63,9.8],[35,8.7],[38,9.0],[44,8.7],[48,8.8],[52,9.1],[56,9.2],[58,8.7],[60,9.6],[30,8.8],[26,8.8],[24,8.0],[45,11.5],[52,11.5],[56,12.5],[46,7.5],[64,10.8],[33,8.2],[40,11.0]];

// ---------- styles (kept apart from data) ----------
const SERIES_COLORS = ['#F5878A','#E8485A','#E41F26','#C9529A','#9020B8','#3B10D0','#9163F7','#1A8FD6','#2FA6B4','#A6D8F4'];
const FONT = "'Liberation Sans', Arial, Helvetica, sans-serif";
Chart.defaults.font.family = FONT;
Chart.defaults.color = '#000';

const framePlugin = {
  id: 'frame',
  afterDraw(chart) {
    const a = chart.chartArea, c = chart.ctx;
    c.save(); c.strokeStyle = '#000'; c.lineWidth = 2;
    c.strokeRect(a.left, a.top, a.right - a.left, a.bottom - a.top);
    c.restore();
  }
};

function panel(id, area, canvasW, yMin, yMax, yTicks, hideTop, series, rocks) {
  const H = 789, XH = 40, YW = area.L < 100 ? area.L : 40;
  const datasets = [{
    label: ROCK_LABEL, data: rocks, pointStyle: 'triangle', pointRadius: 6.2,
    backgroundColor: '#000', borderColor: '#000', borderWidth: 0.5
  }];
  series.forEach((d, i) => datasets.push({
    label: PRESSURES[i], data: d, pointStyle: 'rect', pointRadius: 6.4,
    borderWidth: 1.7, borderColor: SERIES_COLORS[i], backgroundColor: 'rgba(0,0,0,0)'
  }));
  return new Chart(document.getElementById(id), {
    type: 'scatter',
    data: { datasets },
    options: {
      responsive: false, animation: false, events: [],
      layout: { padding: { left: area.L - YW, top: area.T, right: canvasW - area.R, bottom: H - area.B - XH } },
      plugins: { legend: { display: false }, tooltip: { enabled: false } },
      scales: {
        x: {
          type: 'linear', min: -3.1, max: 87.1,
          afterBuildTicks: s => { s.ticks = MG_TICKS.map(v => ({ value: v })); },
          afterFit: s => { s.height = XH; },
          grid: { drawOnChartArea: false, drawTicks: true, tickLength: 9, tickWidth: 1.5, tickColor: '#000' },
          border: { display: false },
          ticks: { color: '#000', font: { size: 16, family: FONT }, padding: 7, maxRotation: 0, autoSkip: false }
        },
        y: {
          type: 'linear', min: yMin, max: yMax,
          afterBuildTicks: s => { s.ticks = yTicks.map(v => ({ value: v })); },
          afterFit: s => { s.width = YW; },
          grid: { drawOnChartArea: false, drawTicks: true, tickLength: 10, tickWidth: 1.5, tickColor: '#000' },
          border: { display: false },
          ticks: { color: '#000', font: { size: 16, family: FONT }, padding: 2, autoSkip: false,
                   callback: v => (hideTop && v === yMax) ? '' : String(v) }
        }
      }
    },
    plugins: [framePlugin]
  });
}

panel('cA', {L:39, T:14, R:380, B:354}, 1132, 0, 10, TIO2_TICKS, true,
  [TiO2_P1000,TiO2_P900,TiO2_P800,TiO2_P700,TiO2_P600,TiO2_P500,TiO2_P400,TiO2_P300,TiO2_P200,TiO2_P100], TiO2_rocks);
panel('cB', {L:417, T:14, R:758, B:354}, 1132, 5, 35, AL2O3_TICKS, false,
  [Al2O3_P1000,Al2O3_P900,Al2O3_P800,Al2O3_P700,Al2O3_P600,Al2O3_P500,Al2O3_P400,Al2O3_P300,Al2O3_P200,Al2O3_P100], Al2O3_rocks);
panel('cC', {L:796, T:14, R:1137, B:355}, 1150, 0, 30, FEO_TICKS, false,
  [FeO_P1000,FeO_P900,FeO_P800,FeO_P700,FeO_P600,FeO_P500,FeO_P400,FeO_P300,FeO_P200,FeO_P100], FeO_rocks);
panel('cD', {L:39, T:392, R:380, B:732}, 1132, 0, 20, MGO_TICKS, false,
  [MgO_P1000,MgO_P900,MgO_P800,MgO_P700,MgO_P600,MgO_P500,MgO_P400,MgO_P300,MgO_P200,MgO_P100], MgO_rocks);
panel('cE', {L:417, T:392, R:758, B:732}, 1132, 0, 20, CAO_TICKS, false,
  [CaO_P1000,CaO_P900,CaO_P800,CaO_P700,CaO_P600,CaO_P500,CaO_P400,CaO_P300,CaO_P200,CaO_P100], CaO_rocks);

// ---------- HTML legend ----------
const leg = document.getElementById('leg');
PRESSURES.forEach((p, i) => {
  const row = document.createElement('div');
  row.className = 'li';
  row.style.top = (492.5 + i * 22.15) + 'px';
  const sq = document.createElement('span');
  sq.className = 'sq'; sq.style.borderColor = SERIES_COLORS[i];
  row.appendChild(sq);
  row.appendChild(document.createTextNode(p));
  leg.appendChild(row);
});
const rr = document.createElement('div');
rr.className = 'li';
rr.style.left = '783px'; rr.style.top = '716px'; rr.style.fontSize = '22px';
const tri = document.createElement('span'); tri.className = 'tri';
rr.appendChild(tri); rr.appendChild(document.createTextNode(ROCK_LABEL));
leg.appendChild(rr);
</script>
</body></html>
